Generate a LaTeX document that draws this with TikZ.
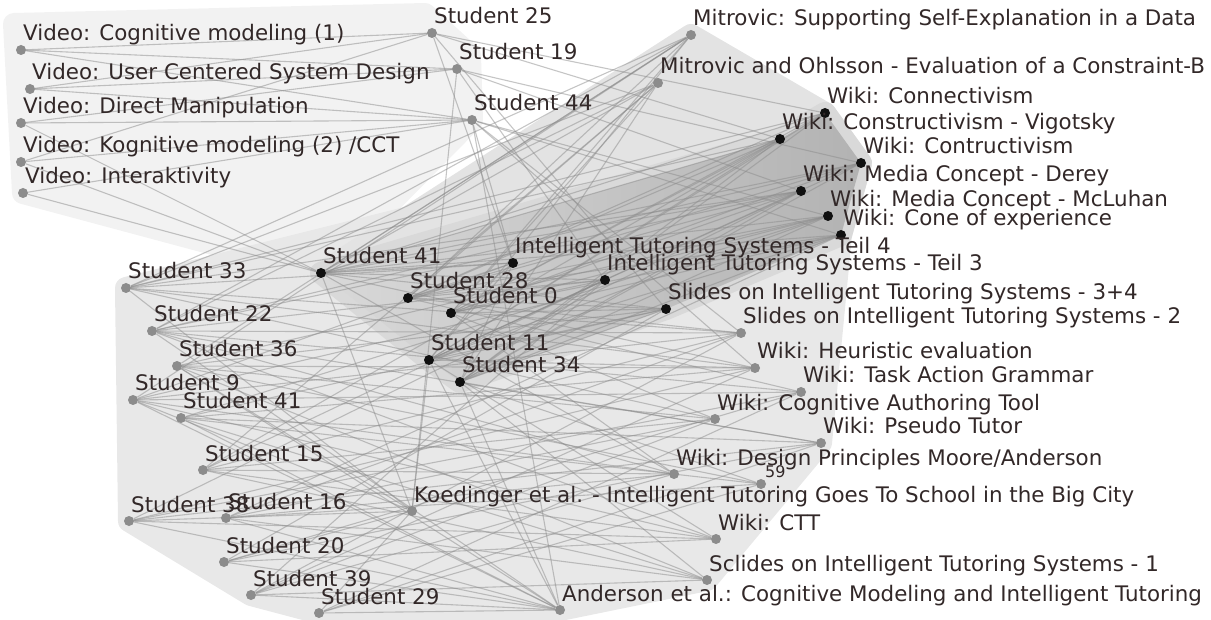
\documentclass[tikz,border=0pt]{standalone}
\usepackage{fontspec}
\setmainfont{DejaVu Sans}
\usetikzlibrary{backgrounds}
\definecolor{txt}{RGB}{50,40,40}
\definecolor{dotgray}{RGB}{140,140,140}
\definecolor{dotblack}{RGB}{16,16,16}
% a dot with its caption set just above and to the right
\newcommand\resnode[5]{%
  \node[#4] (#1) at (#2,#3) {};
  \node[lbl] (#1-t) at (#2+2,#3-9) {#5};}
\begin{document}
\begin{tikzpicture}[x=1pt,y=-1pt,
  gdot/.style={circle,fill=dotgray,inner sep=0,minimum size=10pt},
  bdot/.style={circle,fill=dotblack,inner sep=0,minimum size=10pt},
  lbl/.style={anchor=base west,inner sep=0,text=txt,font=\fontsize{21.4}{24}\selectfont},
  small/.style={anchor=base west,inner sep=0,text=txt,font=\fontsize{16}{18}\selectfont},
  link/.style={draw=black!45,line width=1.1pt,draw opacity=0.5},
  hull/.style={line width=22pt,line join=round}]
\useasboundingbox (0,0) rectangle (1211,620);

% videos
\resnode{v1}{21}{50}{gdot}{Video: Cognitive modeling (1)}
\resnode{v2}{30}{89}{gdot}{Video: User Centered System Design}
\resnode{v3}{21}{123}{gdot}{Video: Direct Manipulation}
\resnode{v4}{21}{162}{gdot}{Video: Kognitive modeling (2) /CCT}
\resnode{v5}{23}{193}{gdot}{Video: Interaktivity}
% students of the video group
\resnode{s25}{432}{33}{gdot}{Student 25}
\resnode{s19}{457}{69}{gdot}{Student 19}
\resnode{s44}{472}{120}{gdot}{Student 44}
% papers
\resnode{m1}{691}{35}{gdot}{Mitrovic: Supporting Self-Explanation in a Data}
\resnode{m2}{658}{83}{gdot}{Mitrovic and Ohlsson - Evaluation of a Constraint-B}
% wiki cluster
\resnode{wcon}{825}{113}{bdot}{Wiki: Connectivism}
\resnode{wvig}{780}{139}{bdot}{Wiki: Constructivism - Vigotsky}
\resnode{wctr}{861}{163}{bdot}{Wiki: Contructivism}
\resnode{wder}{801}{191}{bdot}{Wiki: Media Concept - Derey}
\resnode{wmcl}{828}{216}{bdot}{Wiki: Media Concept - McLuhan}
\resnode{wcone}{841}{235}{bdot}{Wiki: Cone of experience}
\resnode{its4}{513}{263}{bdot}{Intelligent Tutoring Systems - Teil 4}
\resnode{its3}{605}{280}{bdot}{Intelligent Tutoring Systems - Teil 3}
\resnode{sl34}{666}{309}{bdot}{Slides on Intelligent Tutoring Systems - 3+4}
% other resources
\resnode{sl2}{741}{333}{gdot}{Slides on Intelligent Tutoring Systems - 2}
\resnode{wheu}{755}{368}{gdot}{Wiki: Heuristic evaluation}
\resnode{wtag}{801}{392}{gdot}{Wiki: Task Action Grammar}
\resnode{wcat}{715}{419}{gdot}{Wiki: Cognitive Authoring Tool}
\resnode{wpse}{821}{443}{gdot}{Wiki: Pseudo Tutor}
\resnode{wdes}{674}{474}{gdot}{Wiki: Design Principles Moore/Anderson}
\node[gdot] (n59) at (761,484) {};
\node[small] (n59-t) at (765,477) {59};
\resnode{koe}{412}{511}{gdot}{Koedinger et al. - Intelligent Tutoring Goes To School in the Big City}
\resnode{wctt}{716}{539}{gdot}{Wiki: CTT}
\resnode{sl1}{707}{580}{gdot}{Sclides on Intelligent Tutoring Systems - 1}
\resnode{and}{560}{610}{gdot}{Anderson et al.: Cognitive Modeling and Intelligent Tutoring}
% students
\resnode{s41a}{321}{273}{bdot}{Student 41}
\resnode{s28}{408}{298}{bdot}{Student 28}
\resnode{s0}{451}{313}{bdot}{Student 0}
\resnode{s11}{429}{360}{bdot}{Student 11}
\resnode{s34}{460}{382}{bdot}{Student 34}
\resnode{s33}{126}{288}{gdot}{Student 33}
\resnode{s22}{152}{331}{gdot}{Student 22}
\resnode{s36}{177}{366}{gdot}{Student 36}
\resnode{s9}{133}{400}{gdot}{Student 9}
\resnode{s41b}{181}{418}{gdot}{Student 41}
\resnode{s15}{203}{470}{gdot}{Student 15}
\resnode{s38}{129}{521}{gdot}{Student 38}
\resnode{s16}{226}{518}{gdot}{Student 16}
\resnode{s20}{224}{562}{gdot}{Student 20}
\resnode{s39}{251}{595}{gdot}{Student 39}
\resnode{s29}{319}{613}{gdot}{Student 29}

\begin{pgfonlayer}{background}
  % group hulls
  \path[hull,fill=black!5,draw=black!5]
    (14,24) -- (425,14) -- (470,55) -- (s44.center) -- (s41a.center) -- (v5.center) -- cycle;
  \path[hull,fill=black!9,draw=black!9]
    (s33.center) -- (wcon.center) -- (wctr.center) -- (wcone.center) -- (wpse.center)
    -- (sl1.center) -- (and.center) -- (s29.center) -- (s39.center) -- (s38.center) -- cycle;
  \path[hull,fill=black!11,draw=black!11]
    (s41a.center) -- (m1.center) -- (wcon.center) -- (its4.center) -- cycle;
  \path[hull,fill=black!15,draw=black!15]
    (s41a.center) -- (wvig.center) -- (wcon.center) -- (wctr.center) -- (wcone.center)
    -- (sl34.center) -- (s34.center) -- (s11.center) -- cycle;
  \shade[left color=black!15,right color=black!30]
    (s41a.center) -- (wvig.center) -- (wcon.center) -- (wctr.center) -- (wcone.center)
    -- (sl34.center) -- (s34.center) -- (s11.center) -- cycle;

  % links between students and resources
  \foreach \a/\b in {v1/s25,v1/s19,v1/s44,v2/s25,v2/s19,v2/s44,v3/s19,v3/s44,v3/s41a,
      v4/s25,v4/s44,v4/s41a,v5/s41a,v5/s44,
      s25/wcon,s25/wvig,s25/its4,s25/sl34,s19/wder,s19/its3,s19/wctr,s19/koe,
      s44/and,s44/its4,s44/wcone,s44/sl2,s44/wmcl,s44/wheu,
      m1/s41a,m1/s33,m1/s28,m1/s22,m1/s0,m1/s36,m1/s11,m1/s9,
      m2/s41a,m2/s33,m2/s28,m2/s0,m2/s34,m2/s22,m2/s15,
      s33/wcon,s33/wvig,s33/its4,s33/wder,s22/wder,s22/its3,s22/wctr,s36/sl34,s36/wmcl,
      s9/wcone,s9/its4,s41b/wmcl,s41b/sl34,s15/its3,s15/wvig,s38/wder,s16/wcone,s20/sl34,s39/its3,
      s33/sl2,s33/wheu,s33/wcat,s33/koe,
      s22/sl2,s22/wtag,s22/wpse,s22/wdes,s22/wctt,s22/and,
      s36/wheu,s36/wcat,s36/n59,s36/sl1,s36/and,s36/koe,
      s9/sl2,s9/wtag,s9/wdes,s9/koe,s9/wctt,s9/and,
      s41b/wheu,s41b/wpse,s41b/n59,s41b/sl1,s41b/and,
      s15/sl2,s15/wcat,s15/wdes,s15/wctt,s15/sl1,
      s38/wheu,s38/wtag,s38/wpse,s38/koe,s38/and,s38/wctt,
      s16/sl2,s16/wcat,s16/n59,s16/sl1,s16/wdes,s16/and,
      s20/wtag,s20/wpse,s20/koe,s20/wctt,s20/and,
      s39/sl2,s39/wheu,s39/wcat,s39/wdes,s39/sl1,s39/and,
      s29/wtag,s29/wpse,s29/n59,s29/koe,s29/and,
      s11/wheu,s11/wctt,s11/koe,s11/and,s34/wpse,s34/sl1,s34/and,s34/n59,
      s0/wcat,s0/wdes,s28/wtag,s28/sl2,s41a/wdes,s41a/koe,s41a/wheu}
    \draw[link] (\a) -- (\b);
  \foreach \a in {s41a,s28,s0,s11,s34}
    \foreach \b in {wcon,wvig,wctr,wder,wmcl,wcone,its4,its3,sl34}
      \draw[link] (\a) -- (\b);
\end{pgfonlayer}
\end{tikzpicture}
\end{document}
